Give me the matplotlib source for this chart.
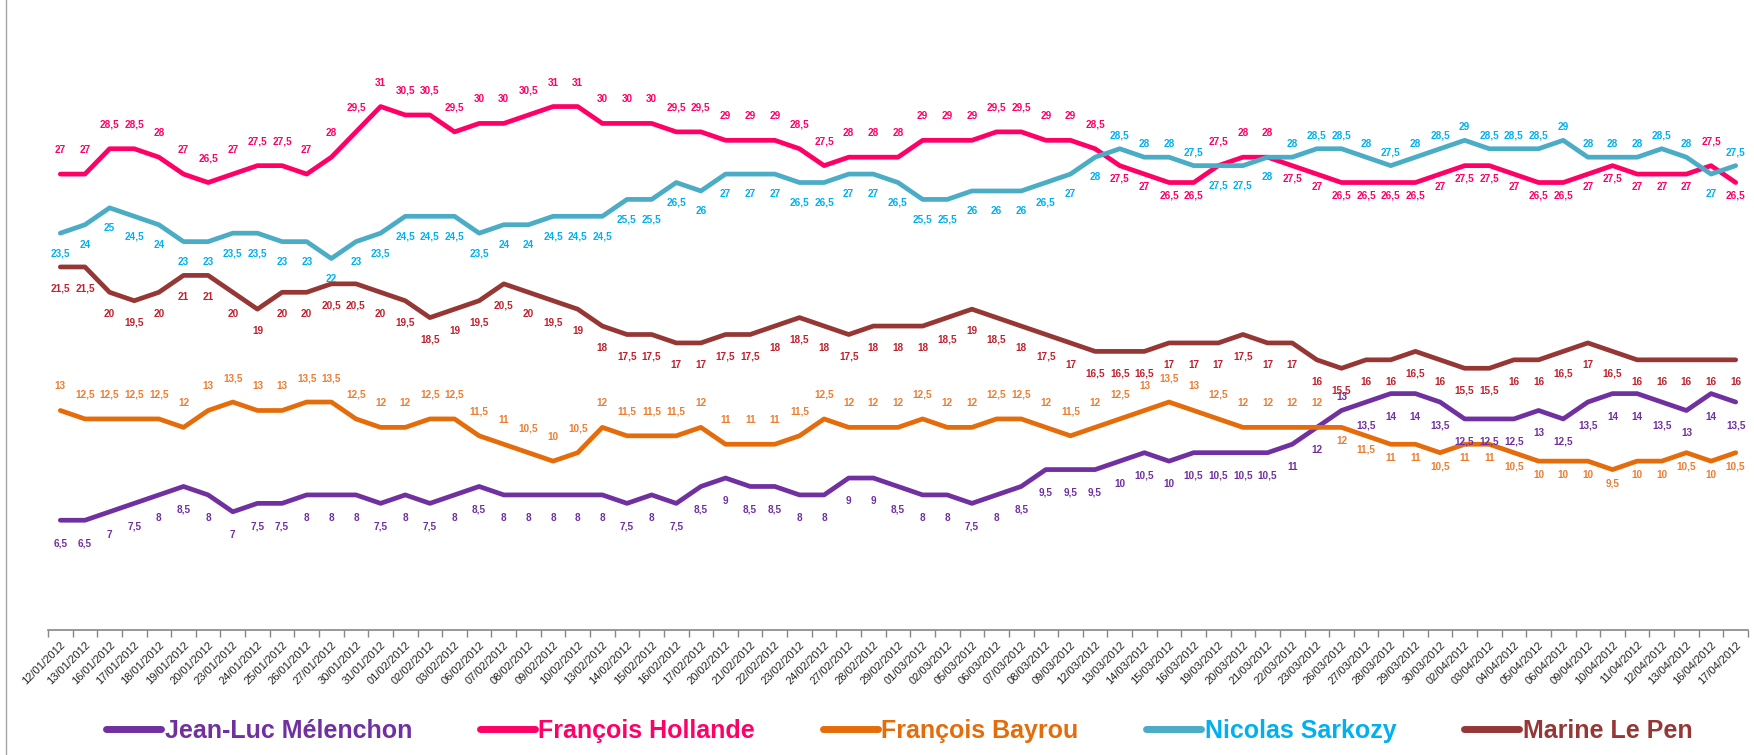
import numpy as np
import matplotlib
matplotlib.use('Agg')
import matplotlib.pyplot as plt
from matplotlib.lines import Line2D

dates = ['12/01/2012', '13/01/2012', '16/01/2012', '17/01/2012', '18/01/2012', '19/01/2012',
         '20/01/2012', '23/01/2012', '24/01/2012', '25/01/2012', '26/01/2012', '27/01/2012',
         '30/01/2012', '31/01/2012', '01/02/2012', '02/02/2012', '03/02/2012', '06/02/2012',
         '07/02/2012', '08/02/2012', '09/02/2012', '10/02/2012', '13/02/2012', '14/02/2012',
         '15/02/2012', '16/02/2012', '17/02/2012', '20/02/2012', '21/02/2012', '22/02/2012',
         '23/02/2012', '24/02/2012', '27/02/2012', '28/02/2012', '29/02/2012', '01/03/2012',
         '02/03/2012', '05/03/2012', '06/03/2012', '07/03/2012', '08/03/2012', '09/03/2012',
         '12/03/2012', '13/03/2012', '14/03/2012', '15/03/2012', '16/03/2012', '19/03/2012',
         '20/03/2012', '21/03/2012', '22/03/2012', '23/03/2012', '26/03/2012', '27/03/2012',
         '28/03/2012', '29/03/2012', '30/03/2012', '02/04/2012', '03/04/2012', '04/04/2012',
         '05/04/2012', '06/04/2012', '09/04/2012', '10/04/2012', '11/04/2012', '12/04/2012',
         '13/04/2012', '16/04/2012', '17/04/2012']

melenchon = [6.5, 6.5, 7, 7.5, 8, 8.5, 8, 7, 7.5, 7.5, 8, 8, 8, 7.5, 8, 7.5, 8,
             8.5, 8, 8, 8, 8, 8, 7.5, 8, 7.5, 8.5, 9, 8.5, 8.5, 8, 8, 9, 9, 8.5,
             8, 8, 7.5, 8, 8.5, 9.5, 9.5, 9.5, 10, 10.5, 10, 10.5, 10.5, 10.5, 10.5, 11, 12, 13,
             13.5, 14, 14, 13.5, 12.5, 12.5, 12.5, 13, 12.5, 13.5, 14, 14, 13.5, 13, 14, 13.5]

hollande = [27, 27, 28.5, 28.5, 28, 27, 26.5, 27, 27.5, 27.5, 27, 28, 29.5, 31, 30.5, 30.5, 29.5,
            30, 30, 30.5, 31, 31, 30, 30, 30, 29.5, 29.5, 29, 29, 29, 28.5, 27.5, 28, 28, 28,
            29, 29, 29, 29.5, 29.5, 29, 29, 28.5, 27.5, 27, 26.5, 26.5, 27.5, 28, 28, 27.5, 27, 26.5,
            26.5, 26.5, 26.5, 27, 27.5, 27.5, 27, 26.5, 26.5, 27, 27.5, 27, 27, 27, 27.5, 26.5]

bayrou = [13, 12.5, 12.5, 12.5, 12.5, 12, 13, 13.5, 13, 13, 13.5, 13.5, 12.5, 12, 12, 12.5, 12.5,
          11.5, 11, 10.5, 10, 10.5, 12, 11.5, 11.5, 11.5, 12, 11, 11, 11, 11.5, 12.5, 12, 12, 12,
          12.5, 12, 12, 12.5, 12.5, 12, 11.5, 12, 12.5, 13, 13.5, 13, 12.5, 12, 12, 12, 12, 12,
          11.5, 11, 11, 10.5, 11, 11, 10.5, 10, 10, 10, 9.5, 10, 10, 10.5, 10, 10.5]

sarkozy = [23.5, 24, 25, 24.5, 24, 23, 23, 23.5, 23.5, 23, 23, 22, 23, 23.5, 24.5, 24.5, 24.5,
           23.5, 24, 24, 24.5, 24.5, 24.5, 25.5, 25.5, 26.5, 26, 27, 27, 27, 26.5, 26.5, 27, 27, 26.5,
           25.5, 25.5, 26, 26, 26, 26.5, 27, 28, 28.5, 28, 28, 27.5, 27.5, 27.5, 28, 28, 28.5, 28.5,
           28, 27.5, 28, 28.5, 29, 28.5, 28.5, 28.5, 29, 28, 28, 28, 28.5, 28, 27, 27.5]

le_pen = [21.5, 21.5, 20, 19.5, 20, 21, 21, 20, 19, 20, 20, 20.5, 20.5, 20, 19.5, 18.5, 19,
          19.5, 20.5, 20, 19.5, 19, 18, 17.5, 17.5, 17, 17, 17.5, 17.5, 18, 18.5, 18, 17.5, 18, 18,
          18, 18.5, 19, 18.5, 18, 17.5, 17, 16.5, 16.5, 16.5, 17, 17, 17, 17.5, 17, 17, 16, 15.5,
          16, 16, 16.5, 16, 15.5, 15.5, 16, 16, 16.5, 17, 16.5, 16, 16, 16, 16, 16]

names = ['Jean-Luc Mélenchon', 'François Hollande', 'François Bayrou', 'Nicolas Sarkozy', 'Marine Le Pen']

FONT = ['Liberation Sans', 'DejaVu Sans']
plt.rcParams['font.family'] = FONT

# index sets where labels sit on the "other" side of the line
swap = set(range(43, 47)) | set(range(50, 67)) | {68}


def fmt(v):
    return f'{v:g}'.replace('.', ',')


def add_labels(ax, x, values, color, below, up_px, down_px):
    for i, v in enumerate(values):
        dy = -down_px if below(i) else up_px
        ax.annotate(fmt(v), (x[i], v), xytext=(0, dy * 0.72), textcoords='offset points',
                    ha='center', va='center', color=color, fontsize=7.2, fontweight='bold')


fig = plt.figure(figsize=(17.54, 7.55), dpi=100)
ax = fig.add_axes([48 / 1754, 125 / 755, 1700 / 1754, 591 / 755])
x = np.arange(len(dates))

series = [
    (melenchon, '#7030A0', '#7030A0', '#7030A0', lambda i: i != 52, 13, 23),
    (hollande, '#FF0066', '#FF0066', '#FF0066', lambda i: i in swap, 24, 13),
    (bayrou, '#E46C0A', '#ED7D31', '#E46C0A', lambda i: i >= 52, 24, 14),
    (sarkozy, '#4BACC6', '#00B0F0', '#00B0F0', lambda i: i not in swap, 13, 20),
    (le_pen, '#953735', '#C0222D', '#953735', lambda i: True, 22, 22),
]

handles = []
for (vals, lc, tc, legc, below, up, down), name in zip(series, names):
    ln, = ax.plot(x, vals, color=lc, lw=3.4, solid_capstyle='round', solid_joinstyle='round', label=name)
    handles.append(ln)
    add_labels(ax, x, vals, tc, below, up, down)

ax.set_xlim(-0.5, len(dates) - 0.5)
ax.set_ylim(0, 35)
for s in ['left', 'right', 'top']:
    ax.spines[s].set_visible(False)
ax.spines['bottom'].set_color('#868686')
ax.spines['bottom'].set_linewidth(1.2)
ax.set_yticks([])
ax.set_xticks(x)
ax.set_xticklabels(dates, fontsize=8, color='#222222')
ax.tick_params(axis='x', which='major', length=0, pad=7)
ax.set_xticks(np.arange(-0.5, len(dates), 1), minor=True)
ax.tick_params(axis='x', which='minor', length=5, color='#868686', width=1)
plt.setp(ax.get_xticklabels(), rotation=45, ha='right', rotation_mode='anchor')

leg = ax.legend(handles=handles, loc='center', bbox_to_anchor=(0.5126, 0.032),
                bbox_transform=fig.transFigure, ncol=5, frameon=False,
                prop={'family': FONT, 'weight': 'bold', 'size': 18},
                handlelength=2.2, handletextpad=0.15, columnspacing=2.7)
for t, (vals, lc, tc, legc, *_ ) in zip(leg.get_texts(), series):
    t.set_color(legc)
for h in leg.legend_handles:
    h.set_linewidth(5)

fig.add_artist(Line2D([6 / 1754, 6 / 1754], [0, 1], transform=fig.transFigure, color='#A6A6A6', lw=1))

fig.savefig('out.png', dpi=100)
